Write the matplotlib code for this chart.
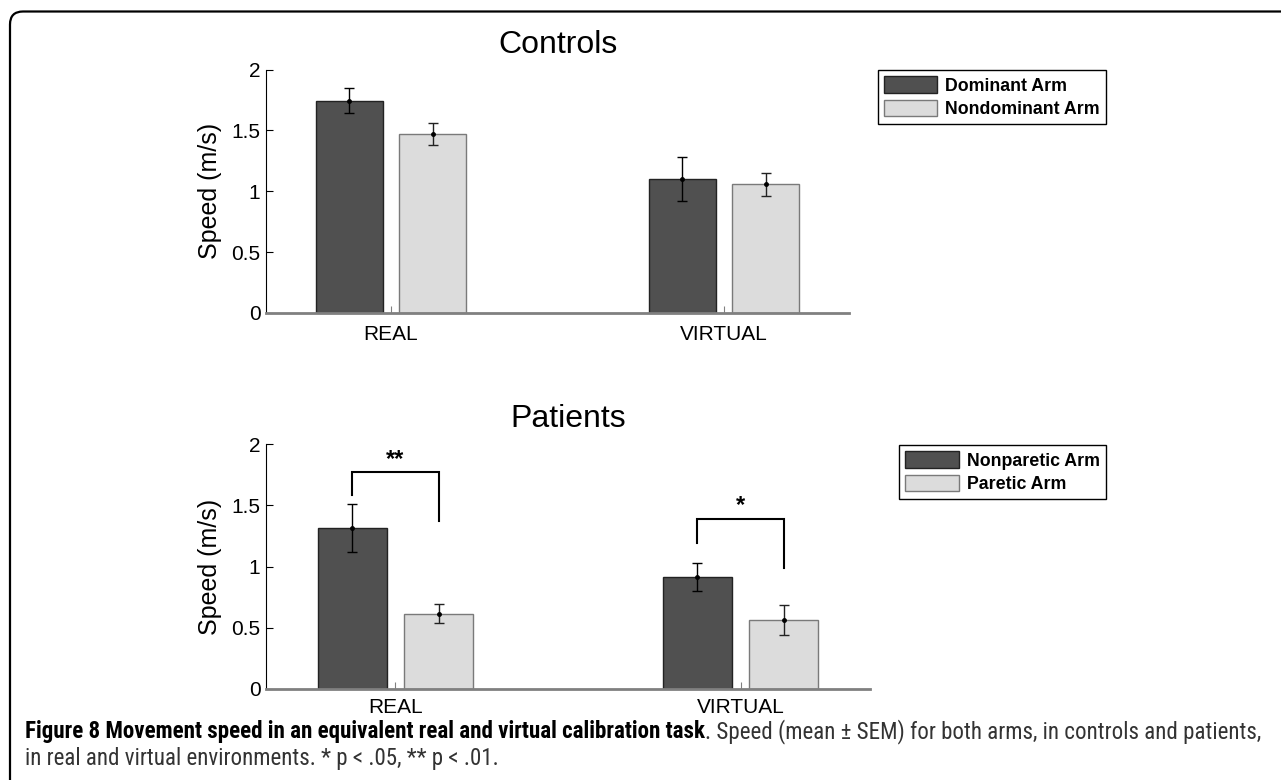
import numpy as np
import matplotlib
matplotlib.use("Agg")
import matplotlib.pyplot as plt
from matplotlib.patches import FancyBboxPatch
from matplotlib.transforms import IdentityTransform
from matplotlib import font_manager

# speed (m/s), mean and SEM
conditions = ["REAL", "VIRTUAL"]

ctrl_dom = [1.745, 1.10]
ctrl_dom_sem = [0.100, 0.180]
ctrl_nondom = [1.473, 1.059]
ctrl_nondom_sem = [0.091, 0.095]

pat_nonpar = [1.315, 0.912]
pat_nonpar_sem = [0.198, 0.114]
pat_par = [0.615, 0.565]
pat_par_sem = [0.077, 0.122]

# significance brackets for the patient group
brk_top = [1.77, 1.39]
brk_left_end = [1.585, 1.19]
brk_right_end = [1.375, 0.99]
brk_marks = ["**", "*"]

W, H = 1281, 780
DARK = "#505050"
LIGHT = "#dcdcdc"

plt.rcParams["font.family"] = ["Liberation Sans", "DejaVu Sans"]

fig = plt.figure(figsize=(W / 100, H / 100), dpi=100)


def px_axes(x0, x1, ytop, ybot):
    return fig.add_axes([x0 / W, 1 - ybot / H, (x1 - x0) / W, (ybot - ytop) / H])


def bar_panel(ax, a, a_sem, b, b_sem, title, labels, leg_top, xpad):
    x = np.arange(1, len(conditions) + 1)
    off, bw = 0.125, 0.2
    hb1 = ax.bar(x - off, a, bw, color=DARK, edgecolor="#222222", lw=1, label=labels[0])
    hb2 = ax.bar(x + off, b, bw, color=LIGHT, edgecolor="#7a7a7a", lw=1, label=labels[1])
    ax.errorbar(x - off, a, yerr=a_sem, fmt="o", ms=2.5, color="k", ecolor="k",
                elinewidth=1, capsize=3.3, capthick=1)
    ax.errorbar(x + off, b, yerr=b_sem, fmt="o", ms=2.5, color="k", ecolor="#222222",
                elinewidth=1, capsize=3.3, capthick=1)
    ax.set_xlim(0.625, 2.375)
    ax.set_ylim(0, 2)
    ax.set_xticks(x)
    ax.set_xticklabels(conditions, fontsize=15)
    ax.set_yticks([0, 0.5, 1, 1.5, 2])
    ax.set_yticklabels(["0", "0.5", "1", "1.5", "2"], fontsize=15)
    ax.tick_params(axis="y", direction="in", length=5, width=0.8, pad=4)
    ax.tick_params(axis="x", direction="in", length=5, width=0.8, color="#808080", pad=xpad)
    for s in ["top", "right"]:
        ax.spines[s].set_visible(False)
    ax.spines["left"].set_linewidth(0.8)
    ax.spines["bottom"].set_color("#808080")
    ax.spines["bottom"].set_linewidth(2)
    ax.set_title(title, fontsize=23, pad=12)
    ax.set_ylabel("Speed (m/s)", fontsize=18)
    wpx = ax.get_position().width * W
    ax.yaxis.set_label_coords(-44 / wpx, 0.5)
    fig.legend(handles=[hb1, hb2], loc="upper right",
               bbox_to_anchor=(1106 / W, leg_top),
               prop={"weight": "bold", "size": 12.8},
               frameon=True, fancybox=False, edgecolor="k", framealpha=1,
               handlelength=3.0, handleheight=1.05, handletextpad=0.45,
               labelspacing=0.3, borderpad=0.35, borderaxespad=0)


ax1 = px_axes(266, 849, 69.5, 313)
bar_panel(ax1, ctrl_dom, ctrl_dom_sem, ctrl_nondom, ctrl_nondom_sem, "Controls",
          ["Dominant Arm", "Nondominant Arm"], 1 - 70 / H, 9)

ax2 = px_axes(266, 870, 444, 689)
bar_panel(ax2, pat_nonpar, pat_nonpar_sem, pat_par, pat_par_sem, "Patients",
          ["Nonparetic Arm", "Paretic Arm"], 1 - 445 / H, 6.5)

for i in range(len(conditions)):
    xl, xr = i + 1 - 0.125, i + 1 + 0.125
    ax2.plot([xl, xl, xr, xr], [brk_left_end[i], brk_top[i], brk_top[i], brk_right_end[i]],
             color="k", lw=1.5, solid_joinstyle="miter")
    ax2.text(i + 1, brk_top[i] + 0.01, brk_marks[i], ha="center", va="bottom",
             fontsize=17, fontweight="bold")

# rounded frame around the figure
frame = FancyBboxPatch((10, -100), W + 200, H - 11.5 + 100,
                       boxstyle="round,pad=0,rounding_size=13",
                       transform=IdentityTransform(), fill=False,
                       edgecolor="k", lw=1.6, clip_on=False)
fig.patches.append(frame)


# caption: a narrow face if both a bold and a lighter cut are installed
def weight_num(w):
    return w if isinstance(w, (int, float)) else font_manager.weight_dict.get(w, 400)


faces = {}
for f in font_manager.fontManager.ttflist:
    faces.setdefault(f.name, set()).add(weight_num(f.weight))

cap_font, cap_thin = "Open Sans", "normal"
for cand in ["Open Sans Condensed", "Roboto Condensed", "Liberation Sans Narrow",
             "DejaVu Sans Condensed"]:
    ws = faces.get(cand, set())
    if ws and min(ws) < 500 and max(ws) >= 600:
        cap_font = cand
        cap_thin = min(ws, key=lambda w: abs(w - 400))
        break

bold_txt = "Figure 8 Movement speed in an equivalent real and virtual calibration task"
rest_txt = ". Speed (mean \u00b1 SEM) for both arms, in controls and patients,"
line2_txt = "in real and virtual environments. * p < .05, ** p < .01."

cap_fs = 12
t1 = fig.text(25 / W, 1 - 738 / H, bold_txt, fontsize=cap_fs, fontweight="bold",
              family=cap_font, ha="left", va="baseline")
t2 = fig.text(0, 1 - 738 / H, rest_txt, fontsize=cap_fs, family=cap_font,
              fontweight=cap_thin, color="#333333", ha="left", va="baseline")
t3 = fig.text(25 / W, 1 - 765 / H, line2_txt, fontsize=cap_fs, family=cap_font,
              fontweight=cap_thin, color="#333333", ha="left", va="baseline")

fig.canvas.draw()
r = fig.canvas.get_renderer()
wtot = t1.get_window_extent(r).width + t2.get_window_extent(r).width
cap_fs = cap_fs * (1265 - 25) / wtot
for t in (t1, t2, t3):
    t.set_fontsize(cap_fs)
fig.canvas.draw()
x_end = t1.get_window_extent(r).x1
t2.set_x(x_end / W)

fig.savefig("out.png", dpi=100)
